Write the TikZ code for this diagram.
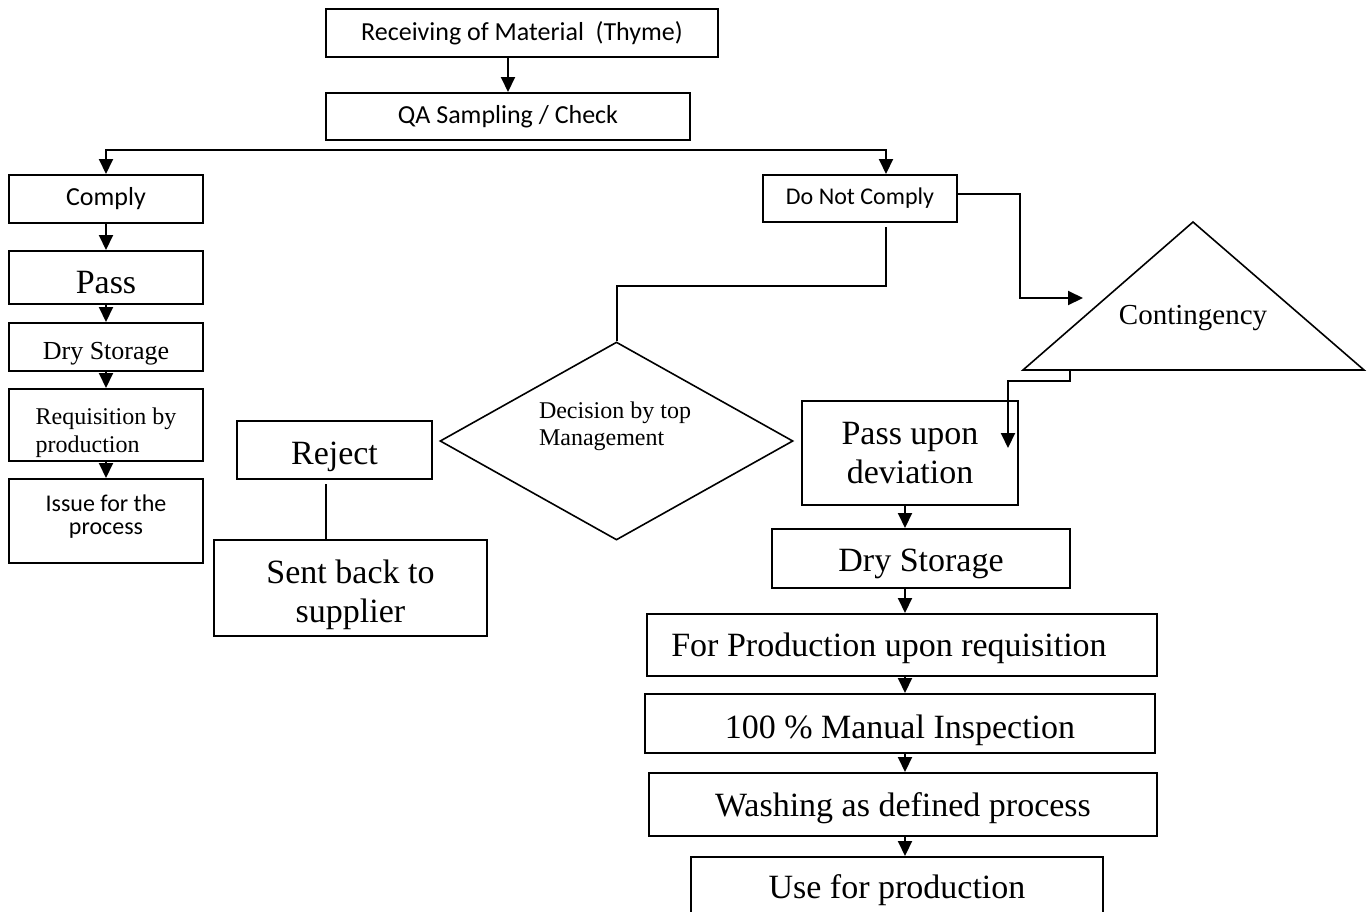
\documentclass[tikz,border=0pt]{standalone}
\usepackage{fontspec}
\setmainfont{Liberation Serif}
\newfontfamily\calibri{Carlito}
\usetikzlibrary{arrows.meta,shapes.geometric}
\tikzstyle{box}=[rectangle, draw, line width=1pt, inner sep=0pt, align=center]
\tikzstyle{big}=[font=\fontsize{17}{19.5}\selectfont, text depth=0pt]
\tikzstyle{cal}=[font=\calibri\fontsize{13}{15}\selectfont]
\tikzstyle{calsmall}=[font=\calibri\fontsize{12}{11.5}\selectfont]
\tikzstyle{arr}=[-{Triangle[width=7pt,length=7.5pt]}, line width=1pt]

\begin{document}
\begin{tikzpicture}[x=0.5pt, y=-0.5pt, line width=1pt]
    \useasboundingbox (0,0) rectangle (1371,911);
    % top of the chart
    \node[box, cal, minimum width=196pt, minimum height=24pt] (recv) at (522,33) {Receiving of Material~ (Thyme)};
    \node[box, cal, minimum width=182pt, minimum height=23.5pt] (qa) at (508,116.5) {QA Sampling / Check};
    \coordinate (fork) at (508,150);
    % left column
    \node[box, cal, minimum width=97pt, minimum height=24pt] (comply) at (106,199) {Comply};
    \node[box, big, text height=15.5pt, minimum width=97pt, minimum height=26.5pt] (pass) at (106,277.5) {Pass};
    \node[box, font=\fontsize{13}{15}\selectfont, text depth=0pt, text height=12pt, minimum width=97pt, minimum height=24pt] (drya) at (106,347) {Dry Storage};
    \node[box, font=\fontsize{12}{14}\selectfont, text depth=0pt, text height=27pt, align=left, minimum width=97pt, minimum height=36pt] (req) at (106,425) {Requisition by\\production};
    \node[box, calsmall, text depth=6pt, minimum width=97pt, minimum height=42pt] (issue) at (106,521) {Issue for the\\process};
    % reject branch
    \node[box, big, text height=14pt, minimum width=97.5pt, minimum height=29pt] (reject) at (334.5,450) {Reject};
    \node[box, big, text height=34pt, minimum width=136.5pt, minimum height=48pt] (sent) at (350.5,588) {Sent back to\\supplier};
    \node[diamond, draw, line width=0.8pt, inner sep=0pt, minimum width=176.5pt, minimum height=99pt] (dec) at (616.5,441) {};
    \node[font=\fontsize{12}{13.5}\selectfont, align=left] (dectxt) at (615,426) {Decision by top\\Management};
    % right branch
    \node[box, calsmall, minimum width=97pt, minimum height=23.5pt] (dnc) at (860,198.5) {Do Not Comply};
    \coordinate (tl) at (1023,370);
    \coordinate (tt) at (1193,222);
    \coordinate (tr) at (1364,370);
    \draw[line width=0.8pt] (tl) -- (tt) -- (tr) -- cycle;
    \node[font=\fontsize{14.5}{16}\selectfont] (cont) at (1193,318) {Contingency};
    \node[box, big, minimum width=108pt, minimum height=52pt] (pdev) at (910,453) {Pass upon\\deviation};
    \node[box, big, text height=12.5pt, minimum width=149pt, minimum height=29.5pt] (dry) at (921,558.5) {Dry Storage};
    \node[box, big, text height=11pt, minimum width=255pt, minimum height=31pt] (prod) at (902,645) {For Production upon requisition\hspace{13pt}};
    \node[box, big, text height=14.5pt, minimum width=255pt, minimum height=29.5pt] (insp) at (900,723.5) {100 \% Manual Inspection};
    \node[box, big, text height=11.5pt, minimum width=254pt, minimum height=31.5pt] (wash) at (903,804.5) {Washing as defined process};
    \node[box, big, text height=5pt, minimum width=206pt, minimum height=36.5pt] (use) at (897,893.5) {Use for production};
    % helper coordinates
    \coordinate (colr) at (905,0);
    \coordinate (dncx) at (886,0);
    \coordinate (bend) at (0,286);
    \coordinate (bendx) at (1020,0);
    \coordinate (contin) at (1083,298);
    \coordinate (tbase) at (1070,370);
    \coordinate (drop) at (0,381);
    \coordinate (pdevin) at (1008,448);
    \coordinate (rejx) at (326,0);
    % connectors
    \draw[arr] (recv.south -| qa.north) -- (qa.north);
    \draw[arr] (fork) -| (comply.north);
    \draw[arr] (fork) -| (dnc.north -| dncx);
    \draw[arr] (comply.south) -- (pass.north);
    \draw[arr] (pass.south) -- (drya.north);
    \draw[arr] (drya.south) -- (req.north);
    \draw[arr] (req.south) -- (issue.north);
    \draw ([yshift=-2pt]reject.south -| rejx) -- (sent.north -| rejx);
    \draw ([yshift=-2pt]dnc.south -| dncx) -- (dncx |- bend) -| (dec.north);
    \draw[arr] ([yshift=2.5pt]dnc.east) -| (bendx |- contin) -- (contin);
    \draw[arr] (tbase) -- (tbase |- drop) -| (pdevin);
    \draw[arr] (pdev.south -| colr) -- (dry.north -| colr);
    \draw[arr] (dry.south -| colr) -- (prod.north -| colr);
    \draw[arr] (prod.south -| colr) -- (insp.north -| colr);
    \draw[arr] (insp.south -| colr) -- (wash.north -| colr);
    \draw[arr] (wash.south -| colr) -- (use.north -| colr);
\end{tikzpicture}
\end{document}
